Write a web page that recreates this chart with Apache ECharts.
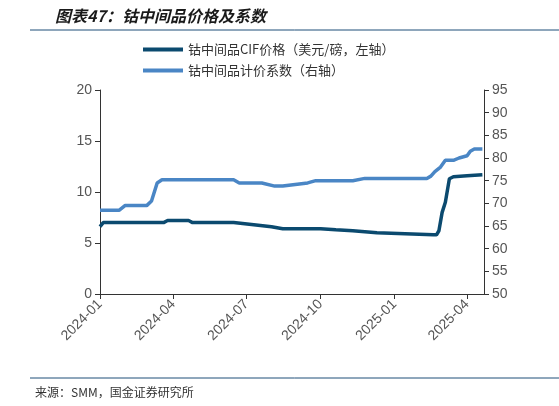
<!DOCTYPE html><html><head><meta charset="utf-8"><script src="https://cdn.jsdelivr.net/npm/echarts@6/dist/echarts.min.js"></script></head><body style="margin:0"><div id="c" style="width:559px;height:406px"></div><script>
const priceDates=['2024-01-01','2024-01-05','2024-03-20','2024-03-25','2024-04-20','2024-04-25','2024-06-15','2024-07-10','2024-08-01','2024-08-15','2024-10-01','2024-10-20','2024-11-10','2024-12-10','2025-02-18','2025-02-22','2025-02-25','2025-03-01','2025-03-05','2025-03-10','2025-03-15','2025-04-01','2025-04-20'];
const priceVals=[6.6,7.0,7.0,7.2,7.2,7.0,7.0,6.8,6.6,6.4,6.4,6.3,6.2,6.0,5.8,5.8,6.2,8.0,9.0,11.3,11.5,11.6,11.7];
const coefDates=['2024-01-01','2024-01-25','2024-02-01','2024-02-28','2024-03-05','2024-03-12','2024-03-18','2024-06-15','2024-06-22','2024-07-20','2024-08-05','2024-08-15','2024-09-15','2024-09-25','2024-11-10','2024-11-25','2025-02-10','2025-02-15','2025-02-20','2025-02-27','2025-03-05','2025-03-15','2025-03-22','2025-04-01','2025-04-05','2025-04-10','2025-04-20'];
const coefVals=[68.5,68.5,69.5,69.5,70.5,74.5,75.2,75.2,74.5,74.5,73.8,73.8,74.5,75.0,75.0,75.5,75.5,76,77,78,79.5,79.5,80,80.5,81.5,82,82];
const tickDates=['2024-01-01','2024-04-01','2024-07-01','2024-10-01','2025-01-01','2025-04-01'];
const ts=d=>new Date(d+'T00:00:00').getTime();
const ch=echarts.init(document.getElementById('c'));
ch.setOption({
 animation:false,
 title:{text:'图表47：钴中间品价格及系数',left:50,top:3,textStyle:{fontSize:16,fontWeight:'bold',fontStyle:'italic',color:'#1a1a1a',fontFamily:'Noto Sans CJK SC'}},
 graphic:[{type:'line',shape:{x1:30,y1:30,x2:559,y2:30},style:{stroke:'#1f4e79',lineWidth:1}},
  {type:'line',shape:{x1:30,y1:378,x2:559,y2:378},style:{stroke:'#1f4e79',lineWidth:1}},
  {type:'text',left:35,top:386,style:{text:'来源：SMM，国金证券研究所',fontSize:12,fill:'#333',fontFamily:'Noto Sans CJK SC'}}],
 legend:{orient:'vertical',left:138,top:38,itemGap:8,itemWidth:40,itemHeight:4,icon:'rect',textStyle:{fontSize:13,color:'#333',fontFamily:'Noto Sans CJK SC'},
  data:['钴中间品CIF价格（美元/磅，左轴）','钴中间品计价系数（右轴）']},
 grid:{left:100,right:75,top:90,bottom:112},
 xAxis:{type:'value',min:ts('2024-01-01'),max:ts('2025-04-22'),splitLine:{show:false},
  axisLine:{lineStyle:{color:'#333'}},
  axisTick:{show:true,customValues:tickDates.map(ts),lineStyle:{color:'#333'}},
  axisLabel:{customValues:tickDates.map(ts),rotate:45,fontSize:14,color:'#555',formatter:v=>{const d=new Date(v);return d.getFullYear()+'-'+String(d.getMonth()+1).padStart(2,'0');}}},
 yAxis:[{type:'value',min:0,max:20,interval:5,splitLine:{show:false},axisLine:{show:true,lineStyle:{color:'#333'}},axisTick:{show:true},axisLabel:{fontSize:14,color:'#555'}},
  {type:'value',min:50,max:95,interval:5,splitLine:{show:false},axisLine:{show:true,lineStyle:{color:'#333'}},axisTick:{show:true},axisLabel:{fontSize:14,color:'#555'}}],
 series:[{name:'钴中间品CIF价格（美元/磅，左轴）',type:'line',yAxisIndex:0,showSymbol:false,lineStyle:{width:3.5,color:'#0b4a6f'},itemStyle:{color:'#0b4a6f'},data:priceDates.map((d,i)=>[ts(d),priceVals[i]])},
  {name:'钴中间品计价系数（右轴）',type:'line',yAxisIndex:1,showSymbol:false,lineStyle:{width:3.5,color:'#4a86c5'},itemStyle:{color:'#4a86c5'},data:coefDates.map((d,i)=>[ts(d),coefVals[i]])}]
});
</script></body></html>
